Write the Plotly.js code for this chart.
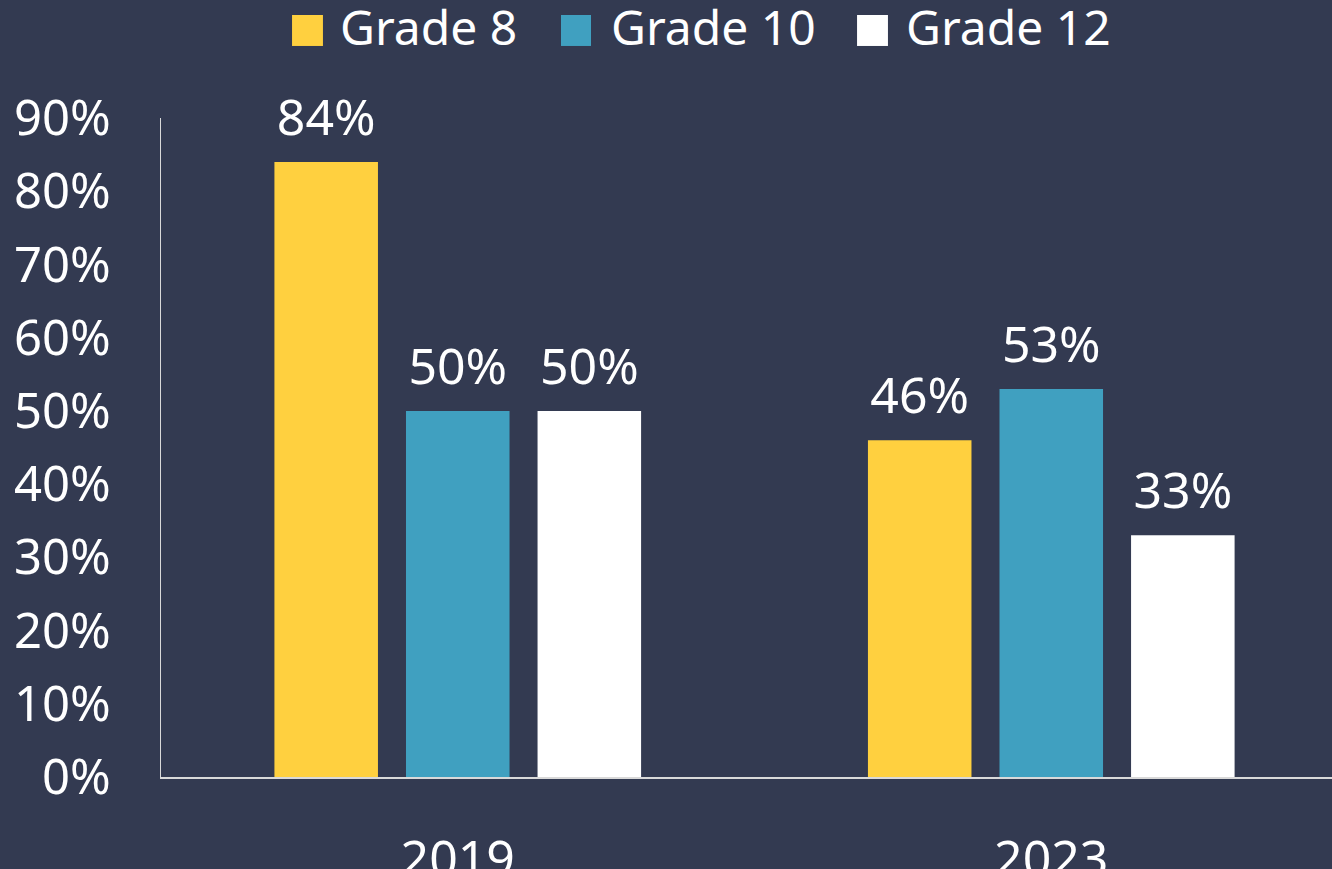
<!DOCTYPE html>
<html>
<head>
<meta charset="utf-8">
<script src="https://cdn.plot.ly/plotly-3.0.1.min.js"></script>
<style>
html,body{margin:0;padding:0;background:#333A51;}
#chart{width:1332px;height:869px;}
</style>
</head>
<body>
<div id="chart"></div>
<script>
const years = ['2019', '2023'];
const seriesNames = ['Grade 8', 'Grade 10', 'Grade 12'];
const grade8 = [84, 46];
const grade10 = [50, 53];
const grade12 = [50, 33];
const yTickVals = [0, 10, 20, 30, 40, 50, 60, 70, 80, 90];
const yTickText = ['0%', '10%', '20%', '30%', '40%', '50%', '60%', '70%', '80%', '90%'];

const colors = ['#FFD03F', '#40A0C0', '#FFFFFF'];
const seriesValues = [grade8, grade10, grade12];
const FONT = '"Noto Sans", "Open Sans", sans-serif';

const barTraces = seriesValues.map((vals, i) => ({
  type: 'bar',
  name: seriesNames[i],
  x: years,
  y: vals,
  offsetgroup: 'g' + i,
  marker: {color: colors[i]},
  hoverinfo: 'skip',
  showlegend: false
}));

const labelTraces = seriesValues.map((vals, i) => ({
  type: 'scatter',
  mode: 'markers+text',
  x: years,
  y: vals,
  offsetgroup: 'g' + i,
  marker: {size: 22, opacity: 0},
  text: vals.map(v => v + '%'),
  textposition: 'top center',
  textfont: {family: FONT, size: 50, color: '#FFFFFF'},
  cliponaxis: false,
  hoverinfo: 'skip',
  showlegend: false
}));

// Custom legend (large square swatches)
const legendSwatches = [[0.1119, 0.1383], [0.3416, 0.3672], [0.5944, 0.6208]];
const legendTextX = [0.1512, 0.3826, 0.6345];
const shapes = seriesNames.map((n, i) => ({
  type: 'rect', xref: 'paper', yref: 'paper',
  x0: legendSwatches[i][0], x1: legendSwatches[i][1],
  y0: 1.1093, y1: 1.1563,
  fillcolor: colors[i], line: {width: 0}
}));
const annotations = seriesNames.map((n, i) => ({
  xref: 'paper', yref: 'paper',
  x: legendTextX[i], y: 1.1385,
  xanchor: 'left', yanchor: 'middle',
  text: n, showarrow: false,
  font: {family: FONT, size: 48, color: '#FFFFFF'}
}));

const layout = {
  width: 1332, height: 869,
  paper_bgcolor: '#333A51',
  plot_bgcolor: '#333A51',
  margin: {l: 161, r: 0, t: 118, b: 92},
  barmode: 'group',
  bargap: 0.335,
  bargroupgap: 0.213,
  scattermode: 'group',
  scattergap: 0.335,
  font: {family: FONT, color: '#FFFFFF'},
  xaxis: {
    type: 'category',
    range: [-0.5, 1.473],
    showline: true, linecolor: '#D9D9D9', linewidth: 1.5,
    showgrid: false, zeroline: false, ticks: '',
    ticklabelstandoff: 37,
    tickfont: {family: FONT, size: 50, color: '#FFFFFF'}
  },
  yaxis: {
    range: [0, 90],
    tickvals: yTickVals, ticktext: yTickText,
    showline: true, linecolor: '#D9D9D9', linewidth: 1.5,
    showgrid: false, zeroline: false, ticks: '',
    ticklabelstandoff: 39,
    tickfont: {family: FONT, size: 49, color: '#FFFFFF'}
  },
  shapes: shapes,
  annotations: annotations,
  showlegend: false
};

Plotly.newPlot('chart', barTraces.concat(labelTraces), layout, {displayModeBar: false, staticPlot: true});
</script>
</body>
</html>
